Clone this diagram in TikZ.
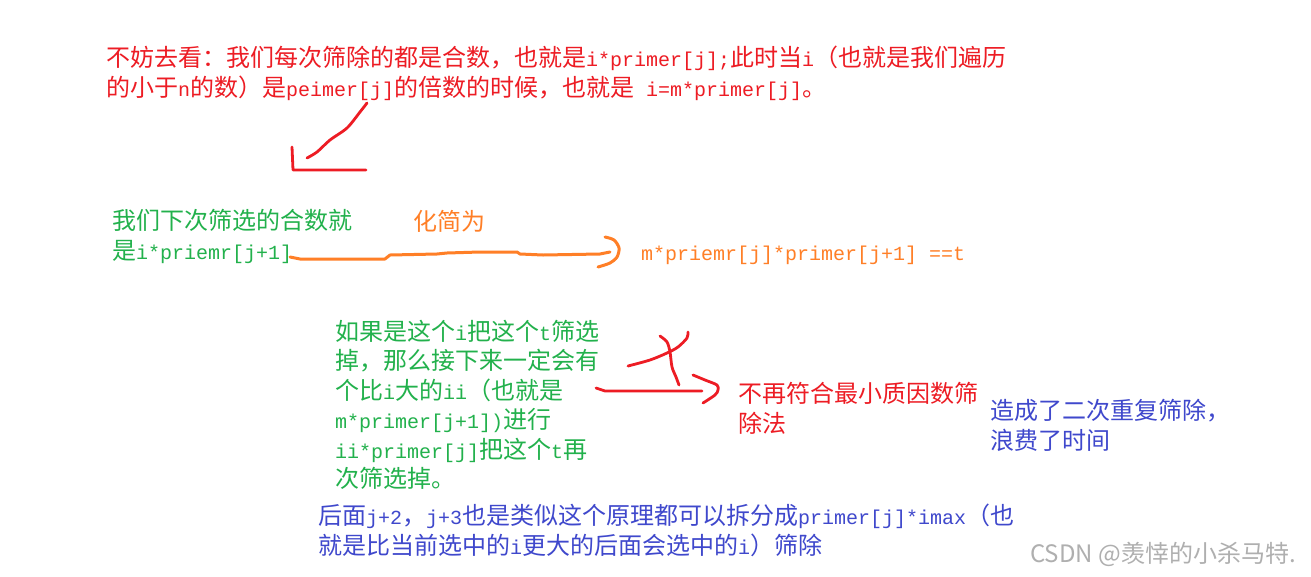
\documentclass[tikz,border=0pt]{standalone}
\usepackage{fontspec}
\newfontfamily\cjkf{Noto Sans CJK SC}
\newfontfamily\latf{Liberation Mono}
\definecolor{hred}{RGB}{237,28,36}
\definecolor{hgreen}{RGB}{34,177,76}
\definecolor{horange}{RGB}{255,127,39}
\definecolor{hblue}{RGB}{63,72,204}
\definecolor{wmgray}{RGB}{175,175,175}
\newcommand\zh{\cjkf\fontsize{24}{24}\selectfont}
\newcommand\en[1]{{\latf\fontsize{20}{20}\selectfont #1}}
\begin{document}
\begin{tikzpicture}[x=1pt,y=-1pt,
  txt/.style={inner sep=0pt, anchor=base west, font=\zh},
  stroke/.style={line width=2.8pt, line cap=round, line join=round}]
\useasboundingbox[fill=white] (0,0) rectangle (1311,576);

% red intro text
\node[txt, text=hred] (r1) at (106,66) {不妨去看：我们每次筛除的都是合数，也就是\en{i*primer[j];}此时当\en{i}（也就是我们遍历};
\node[txt, text=hred] (r2) at (106,96) {的小于\en{n}的数）是\en{peimer[j]}的倍数的时候，也就是\en{\ i=m*primer[j]}。};

% green next composite
\node[txt, text=hgreen] (g1) at (112,229) {我们下次筛选的合数就};
\node[txt, text=hgreen] (g2) at (112,259) {是\en{i*priemr[j+1]}};
\node[txt, text=horange] (o1) at (413,230) {化简为};
\node[txt, text=horange] (o2) at (641,260) {\en{m*priemr[j]*primer[j+1] ==t}};

% green explanation
\node[txt, text=hgreen] (e1) at (335,340) {如果是这个\en{i}把这个\en{t}筛选};
\node[txt, text=hgreen] (e2) at (335,369.5) {掉，那么接下来一定会有};
\node[txt, text=hgreen] (e3) at (335,399) {个比\en{i}大的\en{ii}（也就是};
\node[txt, text=hgreen] (e4) at (335,428.5) {\en{m*primer[j+1])}进行};
\node[txt, text=hgreen] (e5) at (335,458) {\en{ii*primer[j]}把这个\en{t}再};
\node[txt, text=hgreen] (e6) at (335,487.5) {次筛选掉。};

% red conclusion
\node[txt, text=hred] (c1) at (738,402) {不再符合最小质因数筛};
\node[txt, text=hred] (c2) at (738,432) {除法};

% blue notes
\node[txt, text=hblue] (b1) at (990,419) {造成了二次重复筛除，};
\node[txt, text=hblue] (b2) at (990,449) {浪费了时间};
\node[txt, text=hblue] (d1) at (318,524) {后面\en{j+2}，\en{j+3}也是类似这个原理都可以拆分成\en{primer[j]*imax}（也};
\node[txt, text=hblue] (d2) at (318,554) {就是比当前选中的\en{i}更大的后面会选中的\en{i}）筛除};

% watermark
\node[txt, text=wmgray] (wm) at (1030,562) {CSDN @羡悻的小杀马特.};

% red hand-drawn arrow
\draw[stroke, hred] plot[smooth] coordinates {(367,103) (360,112) (347,128) (330,140) (317,152) (307,158)};
\draw[stroke, hred] (292,147) -- (293,170) -- (366,170);

% orange wavy arrow
\draw[stroke, horange, line width=3pt] (290,257) -- (300,259) -- (385,259) -- (390,255) -- (437,254) -- (447,253) -- (480,252) -- (517,252) -- (520,254) -- (543,255) -- (600,254) -- (610,252);
\draw[stroke, horange, line width=3pt] plot[smooth] coordinates {(605,237) (614,240) (619,248) (617,257) (610,263) (598,267)};

% red cross and arrow
\draw[stroke, hred] plot[smooth] coordinates {(628,366) (650,360) (667,353) (678,347) (687,338) (688,332)};
\draw[stroke, hred] plot[smooth] coordinates {(660,336) (667,342) (670,352) (672,367) (676,377) (679,385)};
\draw[stroke, hred] (596,388) -- (605,391) -- (702,391);
\draw[stroke, hred] plot[smooth] coordinates {(693,375) (705,380) (717,385) (718,390) (715,395) (703,403)};
\end{tikzpicture}
\end{document}
